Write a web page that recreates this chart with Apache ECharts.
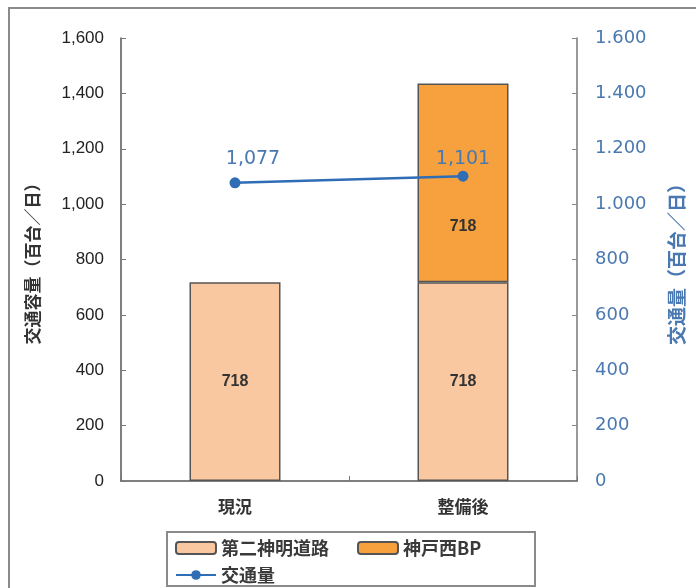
<!DOCTYPE html>
<html>
<head>
<meta charset="utf-8">
<script src="https://cdn.jsdelivr.net/npm/echarts@6/dist/echarts.min.js"></script>
<style>
  html, body { margin: 0; padding: 0; background: #fff; }
  #chart { width: 696px; height: 588px; }
</style>
</head>
<body>
<div id="chart"></div>
<script>
// Categories and series values
var categories = ['現況', '整備後'];
var daini = [718, 718];          // 第二神明道路
var kobeNishi = [null, 718];     // 神戸西BP
var traffic = [1077, 1101];      // 交通量

var jpFont = '"Noto Sans CJK JP", "Liberation Sans", sans-serif';
var numFont = '"Liberation Sans", Arial, sans-serif';
var blue = '#2f6db5';
var blueText = '#4a78b0';

var chart = echarts.init(document.getElementById('chart'));

function leftFmt(v) { return v.toLocaleString('en-US'); }
function rightFmt(v) { return v >= 1000 ? String(v).replace(/(\d)(\d{3})$/, '$1.$2') : String(v); }

var legendText = { fontFamily: jpFont, fontSize: 18, fontWeight: 'bold', color: '#3a3a3a' };

chart.setOption({
  animation: false,
  backgroundColor: '#fff',
  graphic: [{
    type: 'rect',
    shape: { x: 9, y: 8, width: 700, height: 600 },
    style: { fill: 'none', stroke: '#8a8a8a', lineWidth: 2 },
    silent: true
  }, {
    type: 'rect',
    shape: { x: 167, y: 532, width: 368, height: 54 },
    style: { fill: '#fff', stroke: '#8a8a8a', lineWidth: 2 },
    silent: true
  }],
  grid: { left: 121, right: 119, top: 38, bottom: 107 },
  legend: [{
    left: 170, top: 534,
    itemWidth: 40, itemHeight: 12, itemGap: 28,
    textStyle: legendText,
    data: ['第二神明道路', '神戸西BP']
  }, {
    left: 170, top: 561,
    itemWidth: 40, itemHeight: 12,
    textStyle: legendText,
    data: ['交通量']
  }],
  xAxis: {
    type: 'category',
    data: categories,
    axisLine: { lineStyle: { color: '#555', width: 1.5 } },
    axisTick: { show: true, inside: true, length: 5, lineStyle: { color: '#777' } },
    axisLabel: { fontFamily: jpFont, fontSize: 17, fontWeight: 'bold', color: '#333', margin: 17 }
  },
  yAxis: [{
    type: 'value',
    min: 0, max: 1600, interval: 200,
    name: '交通容量（百台／日）',
    nameLocation: 'middle',
    nameRotate: 90,
    nameGap: 80,
    nameTextStyle: { fontFamily: jpFont, fontSize: 17, fontWeight: 'bold', color: '#333' },
    axisLine: { show: true, lineStyle: { color: '#555', width: 1.5 } },
    axisTick: { show: true, inside: true, length: 5, lineStyle: { color: '#777' } },
    splitLine: { show: false },
    axisLabel: { formatter: leftFmt, fontFamily: numFont, fontSize: 17, color: '#222', margin: 17 }
  }, {
    type: 'value',
    min: 0, max: 1600, interval: 200,
    position: 'right',
    name: '交通量（百台／日）',
    nameLocation: 'middle',
    nameRotate: 90,
    nameGap: 90,
    nameTextStyle: { fontFamily: jpFont, fontSize: 19, fontWeight: 'bold', color: blueText },
    axisLine: { show: true, lineStyle: { color: '#777', width: 1.5 } },
    axisTick: { show: true, inside: true, length: 5, lineStyle: { color: '#888' } },
    splitLine: { show: false },
    axisLabel: { formatter: rightFmt, fontFamily: '"DejaVu Sans", sans-serif', fontSize: 18, color: blueText, margin: 18 }
  }],
  series: [{
    name: '第二神明道路',
    type: 'bar',
    stack: 'cap',
    barWidth: 91,
    data: daini,
    itemStyle: { color: '#f9c7a0', borderColor: '#555', borderWidth: 1.5 },
    label: { show: true, position: 'inside', fontFamily: numFont, fontSize: 16, fontWeight: 'bold', color: '#333' }
  }, {
    name: '神戸西BP',
    type: 'bar',
    stack: 'cap',
    barWidth: 91,
    data: [kobeNishi[0], { value: kobeNishi[1], label: { offset: [0, 44] } }],
    itemStyle: { color: '#f7a13e', borderColor: '#555', borderWidth: 1.5 },
    label: { show: true, position: 'inside', fontFamily: numFont, fontSize: 16, fontWeight: 'bold', color: '#333' }
  }, {
    name: '交通量',
    type: 'line',
    yAxisIndex: 1,
    data: [
      { value: traffic[0], label: { offset: [18, -3] } },
      { value: traffic[1], label: { offset: [0, 4] } }
    ],
    symbol: 'circle',
    symbolSize: 11,
    lineStyle: { color: blue, width: 2.5 },
    itemStyle: { color: blue },
    label: {
      show: true, position: 'top', distance: 6,
      formatter: function (p) { return leftFmt(p.value); },
      fontFamily: '"DejaVu Sans", sans-serif', fontSize: 19, color: blueText
    }
  }]
});
</script>
</body>
</html>
